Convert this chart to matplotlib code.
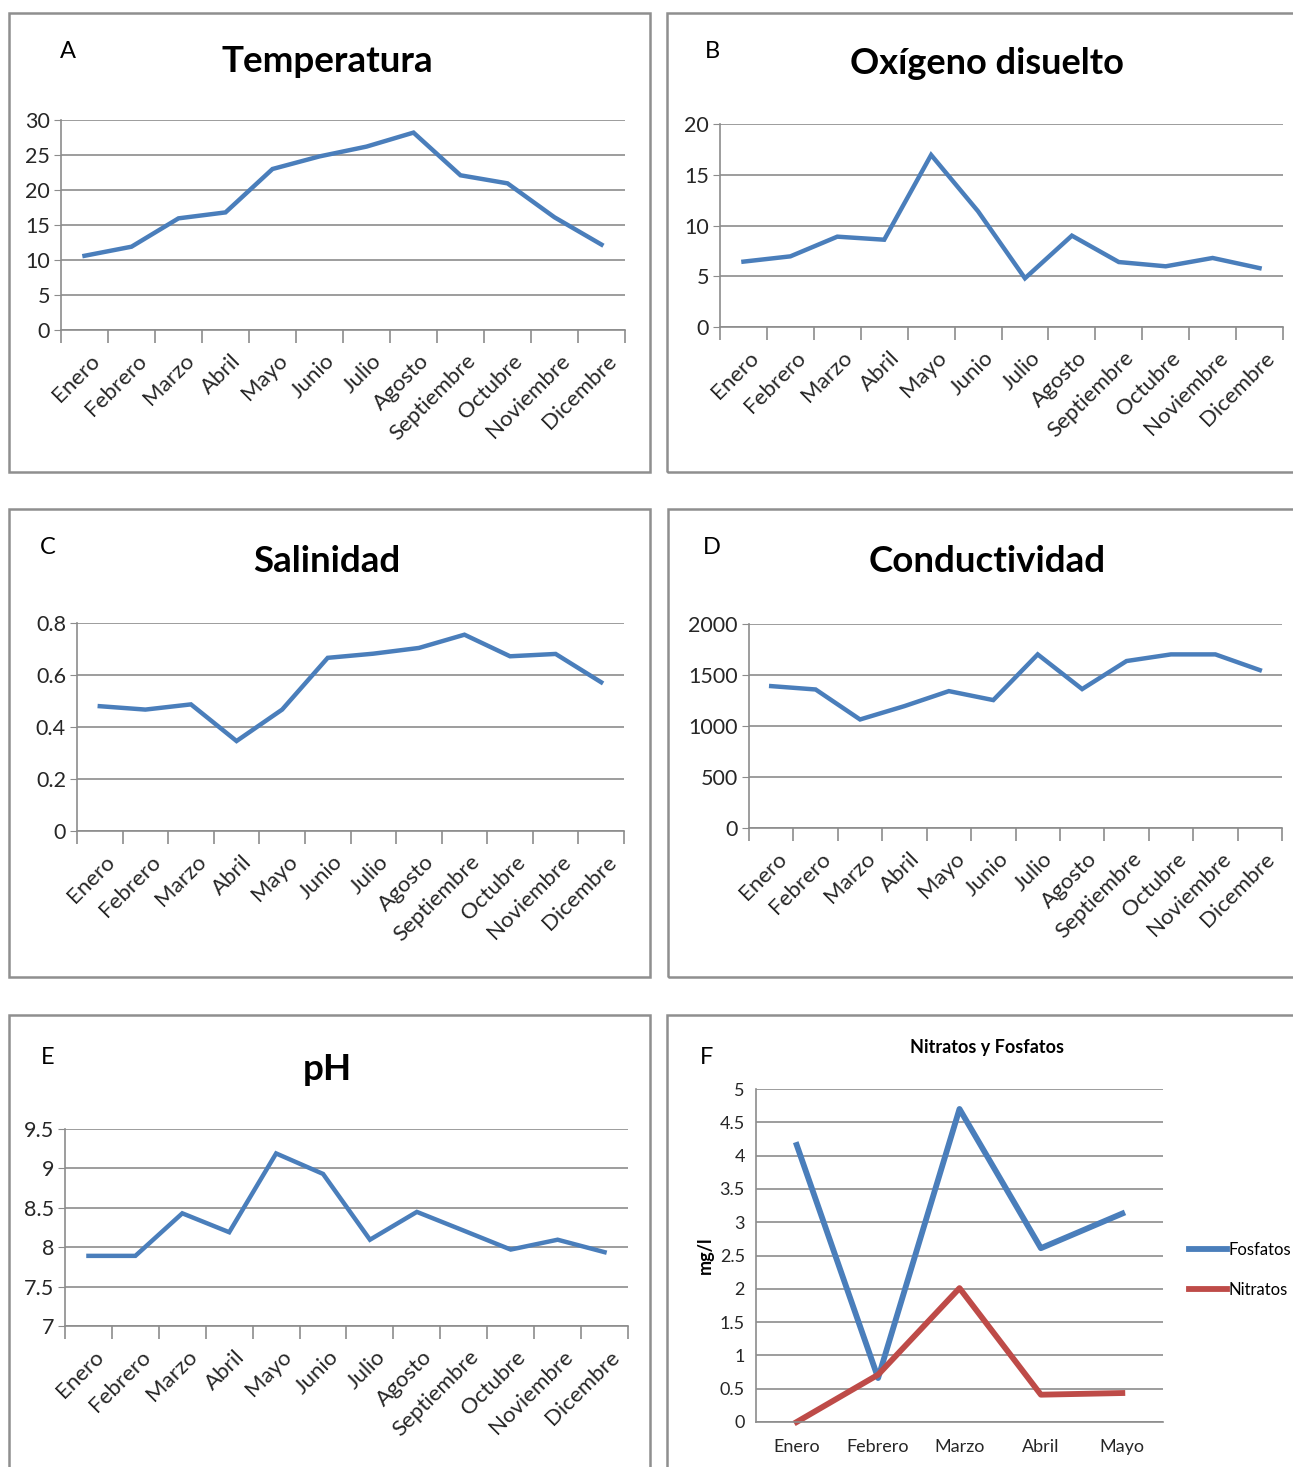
import matplotlib
matplotlib.use("Agg")
import matplotlib.pyplot as plt
from matplotlib.patches import Rectangle
from matplotlib.transforms import ScaledTranslation

plt.rcParams["font.family"] = ["Lato", "DejaVu Sans"]

# monthly series
meses = ["Enero", "Febrero", "Marzo", "Abril", "Mayo", "Junio", "Julio",
         "Agosto", "Septiembre", "Octubre", "Noviembre", "Dicembre"]
temperatura = [10.6, 11.9, 15.95, 16.8, 23.0, 24.8, 26.2, 28.2, 22.1, 20.95, 16.1, 12.2]
oxigeno = [6.44, 6.96, 8.9, 8.6, 16.95, 11.4, 4.8, 9.0, 6.4, 5.98, 6.8, 5.8]
salinidad = [0.48, 0.467, 0.487, 0.346, 0.467, 0.666, 0.682, 0.704, 0.755, 0.672, 0.681, 0.572]
conductividad = [1391, 1358, 1064, 1195, 1342, 1254, 1702, 1362, 1637, 1702, 1702, 1548]
ph = [7.89, 7.89, 8.43, 8.19, 9.19, 8.93, 8.095, 8.448, 8.21, 7.97, 8.095, 7.937]

# nutrients
meses_nf = ["Enero", "Febrero", "Marzo", "Abril", "Mayo"]
fosfatos = [4.16, 0.66, 4.70, 2.61, 3.13]
nitratos = [0.0, 0.71, 2.01, 0.41, 0.435]

W, H = 1293, 1467
fig = plt.figure(figsize=(W / 100, H / 100), dpi=100)

BLUE = "#4a7ebb"
RED = "#be4b48"
GRID = "#8c8c8c"
TXT = "#262626"


def add_ax(left, top, right, bottom):
    return fig.add_axes([left / W, 1 - bottom / H, (right - left) / W, (bottom - top) / H])


def frame(x0, y0, x1, y1):
    fig.add_artist(Rectangle((x0 / W, 1 - y1 / H), (x1 - x0) / W, (y1 - y0) / H,
                             transform=fig.transFigure, fill=False, ec="#8f8f8f", lw=1.8))


def fig_text(x, y, s, **kw):
    fig.text(x / W, 1 - y / H, s, ha="center", va="center", color="black", **kw)


def style(ax, yticks):
    for side in ("top", "right"):
        ax.spines[side].set_visible(False)
    for side in ("left", "bottom"):
        ax.spines[side].set_color(GRID)
        ax.spines[side].set_linewidth(1.2)
    ax.set_ylim(yticks[0], yticks[-1])
    ax.set_yticks(yticks)
    ax.set_yticklabels(["{:g}".format(t) for t in yticks])
    ax.yaxis.grid(True, color=GRID, lw=1.2)
    ax.set_axisbelow(True)
    ax.tick_params(axis="y", length=5, color=GRID, labelsize=15.5, labelcolor=TXT, pad=3)


def month_panel(ax, values, yticks):
    x = range(len(meses))
    ax.plot(x, values, color=BLUE, lw=3.2, solid_joinstyle="miter", clip_on=False)
    ax.set_xlim(-0.5, len(meses) - 0.5)
    style(ax, yticks)
    ax.set_xticks(list(x))
    ax.set_xticks([i - 0.5 for i in range(len(meses) + 1)], minor=True)
    ax.tick_params(axis="x", which="minor", length=9, color=GRID, width=1.2)
    ax.tick_params(axis="x", which="major", length=0, pad=15, labelsize=16, labelcolor=TXT)
    ax.set_xticklabels(meses, rotation=45, ha="right", va="top", rotation_mode="anchor")
    shift = ScaledTranslation(5 / 100, 0, fig.dpi_scale_trans)
    for lab in ax.get_xticklabels():
        lab.set_transform(lab.get_transform() + shift)


# panel frames
frame(9, 13, 650, 472)
frame(667, 13, 1310, 472)
frame(9, 509, 650, 977)
frame(668, 509, 1310, 977)
frame(9, 1015, 650, 1490)
frame(667, 1015, 1310, 1490)

# A - Temperatura
ax = add_ax(61, 120, 625, 330)
month_panel(ax, temperatura, [0, 5, 10, 15, 20, 25, 30])
fig_text(68, 51, "A", fontsize=17)
fig_text(327, 61, "Temperatura", fontsize=26.5, fontweight="bold")

# B - Oxígeno disuelto
ax = add_ax(720, 124, 1283, 327)
month_panel(ax, oxigeno, [0, 5, 10, 15, 20])
fig_text(712, 51, "B", fontsize=17)
fig_text(987, 64, "Oxígeno disuelto", fontsize=26, fontweight="bold")

# C - Salinidad
ax = add_ax(77, 623, 624, 831)
month_panel(ax, salinidad, [0, 0.2, 0.4, 0.6, 0.8])
fig_text(48, 547, "C", fontsize=17)
fig_text(327, 561, "Salinidad", fontsize=26.5, fontweight="bold")

# D - Conductividad
ax = add_ax(749, 624, 1282, 828)
month_panel(ax, conductividad, [0, 500, 1000, 1500, 2000])
fig_text(712, 547, "D", fontsize=17)
fig_text(987, 561, "Conductividad", fontsize=26.5, fontweight="bold")

# E - pH
ax = add_ax(65, 1129, 628, 1326)
month_panel(ax, ph, [7, 7.5, 8, 8.5, 9, 9.5])
fig_text(48, 1057, "E", fontsize=17)
fig_text(327, 1069, "pH", fontsize=26.5, fontweight="bold")

# F - Nitratos y Fosfatos
ax = add_ax(756, 1089, 1163, 1422)
x = range(len(meses_nf))
ax.plot(x, fosfatos, color=BLUE, lw=4.2, label="Fosfatos", clip_on=False)
ax.plot(x, nitratos, color=RED, lw=4.2, label="Nitratos", clip_on=False)
ax.set_xlim(-0.5, len(meses_nf) - 0.5)
style(ax, [0, 0.5, 1, 1.5, 2, 2.5, 3, 3.5, 4, 4.5, 5])
ax.tick_params(axis="y", length=0, labelsize=13, pad=8)
ax.set_xticks(list(x))
ax.set_xticklabels(meses_nf)
ax.tick_params(axis="x", length=0, pad=12, labelsize=13, labelcolor=TXT)
ax.set_ylabel("mg/l", fontsize=13, fontweight="bold", labelpad=4)
fig.legend(loc="upper left", bbox_to_anchor=(1189 / W, 1 - 1242 / H), frameon=False,
           fontsize=12, handlelength=2.3, handletextpad=0.1, labelspacing=1.45,
           borderpad=0, borderaxespad=0)
fig_text(707, 1057, "F", fontsize=17)
fig_text(987, 1048, "Nitratos y Fosfatos", fontsize=13, fontweight="bold")

fig.savefig("out.png", dpi=100)
